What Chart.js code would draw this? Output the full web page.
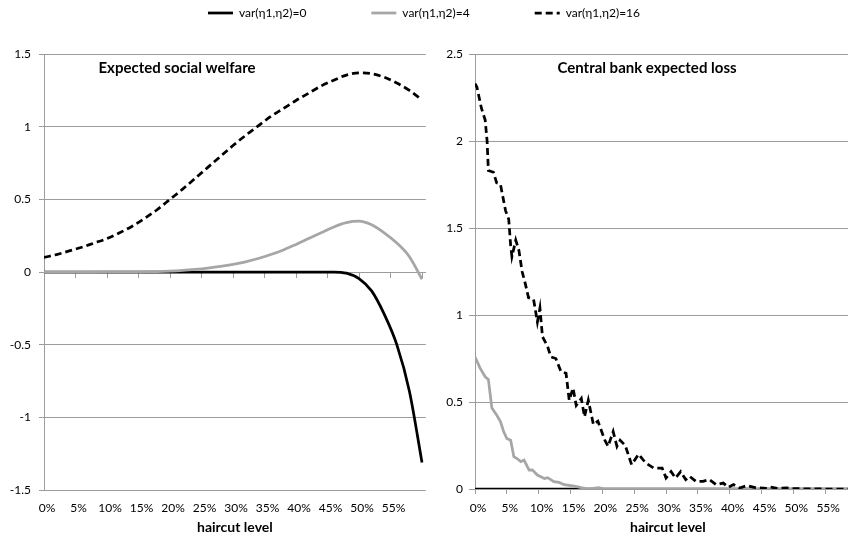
<!DOCTYPE html>
<html><head><meta charset="utf-8">
<script src="https://cdn.jsdelivr.net/npm/chart.js@4/dist/chart.umd.min.js"></script>
<style>
html,body{margin:0;padding:0;background:#fff;width:848px;height:537px;overflow:hidden;}
#wrap{position:relative;width:848px;height:537px;overflow:hidden;}
#left{position:absolute;left:0;top:0;width:433px;height:537px;}
#right{position:absolute;left:430px;top:0;width:434px;height:537px;}
#leg{position:absolute;left:0;top:-58px;width:848px;height:300px;pointer-events:none;}
</style></head><body>
<div id="wrap">
<div id="left"><canvas id="c1"></canvas></div>
<div id="right"><canvas id="c2"></canvas></div>
<div id="leg"><canvas id="c3"></canvas></div>
</div>
<script>
// ---------- data ----------
const seriesNames = ['var(η1,η2)=0', 'var(η1,η2)=4', 'var(η1,η2)=16'];
const xTickValues = [0,5,10,15,20,25,30,35,40,45,50,55,60];
const xTickLabels = ['0%','5%','10%','15%','20%','25%','30%','35%','40%','45%','50%','55%'];
const leftYTicks = [-1.5,-1,-0.5,0,0.5,1,1.5];
const rightYTicks = [0,0.5,1,1.5,2,2.5];

// Expected social welfare (haircut level in %)
const welfareHaircut = [0,2,4,6,8,10,12,14,16,18,20,22,24,26,28,30,32,34,36,38,40,42,44,46,48,50,52,54,56,58,60];
const welfareVar0 = [0,0,0,0,0,0,0,0,0,0,0,0,0,0,0,0,0,0,0,0,0,0,0,0,-0.008,-0.045,-0.13,-0.29,-0.5,-0.82,-1.31];
const welfareVar4 = [0,0,0,0,0,0.001,0.001,0.001,0.002,0.003,0.006,0.011,0.018,0.027,0.038,0.052,0.07,0.093,0.12,0.152,0.19,0.23,0.27,0.31,0.34,0.35,0.325,0.27,0.2,0.105,-0.05];
const welfareVar16 = [0.10,0.12,0.145,0.17,0.20,0.23,0.27,0.315,0.37,0.43,0.50,0.57,0.645,0.72,0.795,0.87,0.94,1.005,1.07,1.125,1.18,1.23,1.28,1.32,1.355,1.37,1.365,1.34,1.30,1.25,1.185];

// Central bank expected loss
const lossHaircutVar0 = [0,10,20,30,40,50,60];
const lossVar0 = [0,0,0,0,0,0,0];
const lossHaircutVar4 = [0,0.8,1.6,2.1,2.65,3.4,4.0,4.5,5.0,5.6,6.1,6.6,7.2,7.7,8.5,9.0,9.8,10.9,11.4,12.4,13.2,14.0,15.6,16.7,17.8,19.4,20.4,25,30,40,50,60];
const lossVar4 = [0.76,0.695,0.645,0.63,0.465,0.425,0.387,0.33,0.29,0.28,0.186,0.175,0.157,0.166,0.109,0.11,0.08,0.06,0.065,0.042,0.038,0.025,0.017,0.008,0,0.008,0,0,0,0,0,0];
const lossHaircutVar16 = [0,0.3,1.0,1.6,1.9,2.1,2.9,3.4,4.0,4.8,5.3,5.6,5.8,6.4,6.9,7.4,7.9,8.4,9.2,9.8,10.2,10.6,11.4,11.9,12.7,13.5,14.3,14.8,15.4,15.9,16.7,17.2,17.8,18.6,19.3,20.4,20.9,21.7,22.3,22.8,23.6,24.6,25.7,26.8,28.1,29.4,30.0,30.8,31.5,32.3,33.1,33.7,34.7,35.8,36.8,37.9,39.0,39.8,40.6,41.6,42.7,44.0,45.9,46.4,47.5,49.0,50.0,52,55,60];
const lossVar16 = [2.33,2.31,2.19,2.12,2.0,1.83,1.82,1.76,1.75,1.60,1.55,1.40,1.335,1.43,1.37,1.25,1.18,1.10,1.09,0.96,1.04,0.875,0.82,0.76,0.75,0.675,0.665,0.51,0.58,0.48,0.52,0.415,0.51,0.37,0.39,0.28,0.245,0.33,0.245,0.28,0.25,0.14,0.20,0.15,0.12,0.12,0.063,0.10,0.063,0.10,0.054,0.073,0.044,0.044,0.054,0.025,0.034,0.01,0.025,0.006,0.02,0.008,0.004,0.011,0.004,0.006,0.002,0.001,0,0];

// ---------- styling ----------
const FONT = "Lato, 'Noto Sans', 'DejaVu Sans', sans-serif";
Chart.defaults.font.family = FONT;
Chart.defaults.color = '#000';
const GRID = '#9c9c9c';
const GRAY = '#a6a6a6';
const X_MAX = 60.6;

const lineStyles = [
  {borderColor:'#000', borderWidth:2.75, borderDash:[]},
  {borderColor:GRAY, borderWidth:2.75, borderDash:[]},
  {borderColor:'#000', borderWidth:2.75, borderDash:[7,4]}
];
const drawOrder = [3,2,1];

const pairs = (xs, ys) => xs.map((x, i) => ({x: x, y: ys[i]}));

const panelTitle = {
  id: 'panelTitle',
  afterDraw(chart, args, opts) {
    const {ctx, chartArea} = chart;
    ctx.save();
    ctx.font = 'bold 15px ' + FONT;
    ctx.fillStyle = '#000';
    ctx.textAlign = 'center';
    ctx.textBaseline = 'middle';
    ctx.fillText(opts.text, chartArea.left + opts.dx, chartArea.top + opts.dy);
    ctx.restore();
  }
};

function setTicks(values) {
  return s => { s.ticks = values.map(v => ({value: v})); };
}

function makeDatasets(sets, smooth) {
  return sets.map((d, i) => Object.assign({
    label: seriesNames[i],
    data: d,
    pointRadius: 0,
    fill: false,
    order: drawOrder[i],
    tension: smooth ? 0.4 : 0,
    cubicInterpolationMode: smooth ? 'monotone' : 'default'
  }, lineStyles[i]));
}

function xAxis(pad, extra) {
  return Object.assign({
    type: 'linear', min: 0, max: X_MAX,
    afterBuildTicks: setTicks(xTickValues),
    ticks: {autoSkip: false, maxRotation: 0, minRotation: 0, labelOffset: 3, padding: pad,
            font: {size: 12}, callback: (v, i) => (xTickLabels[i] !== undefined ? xTickLabels[i] : '')},
    title: {display: true, text: 'haircut level', font: {size: 14, weight: 'bold'}, padding: {top: 0, bottom: 1}}
  }, extra);
}

// ---------- left chart ----------
new Chart(document.getElementById('c1'), {
  type: 'line',
  data: {datasets: makeDatasets([
    pairs(welfareHaircut, welfareVar0),
    pairs(welfareHaircut, welfareVar4),
    pairs(welfareHaircut, welfareVar16)
  ], true)},
  plugins: [panelTitle],
  options: {
    responsive: true, maintainAspectRatio: false, animation: false, events: [],
    layout: {padding: {left: 0, top: 54, right: 0, bottom: 0}},
    plugins: {legend: {display: false}, tooltip: {enabled: false},
              panelTitle: {text: 'Expected social welfare', dx: 133, dy: 14}},
    scales: {
      x: xAxis(11, {
        afterFit: s => { s.height = 47; },
        grid: {display: false, drawTicks: false},
        border: {display: false},
      }),
      x0: {
        type: 'linear', min: 0, max: X_MAX, position: {y: 0},
        afterBuildTicks: setTicks(xTickValues),
        grid: {drawOnChartArea: false, drawTicks: true, tickLength: 5, color: GRID},
        border: {display: true, color: GRID},
        ticks: {display: false}
      },
      y: {
        min: -1.5, max: 1.5,
        afterBuildTicks: setTicks(leftYTicks),
        afterFit: s => { s.width = 44; },
        grid: {color: GRID, tickLength: 5},
        border: {color: GRID},
        ticks: {padding: 8, font: {size: 12}, callback: v => String(v)}
      }
    }
  }
});

// ---------- right chart ----------
new Chart(document.getElementById('c2'), {
  type: 'line',
  data: {datasets: makeDatasets([
    pairs(lossHaircutVar0, lossVar0),
    pairs(lossHaircutVar4, lossVar4),
    pairs(lossHaircutVar16, lossVar16)
  ], false)},
  plugins: [panelTitle],
  options: {
    responsive: true, maintainAspectRatio: false, animation: false, events: [],
    layout: {padding: {left: 0, top: 54, right: 0, bottom: 0}},
    plugins: {legend: {display: false}, tooltip: {enabled: false},
              panelTitle: {text: 'Central bank expected loss', dx: 172, dy: 14}},
    scales: {
      x: xAxis(7, {
        afterFit: s => { s.height = 48; },
        grid: {drawOnChartArea: false, drawTicks: true, tickLength: 5, color: GRID},
        border: {display: true, color: GRID},
      }),
      y: {
        min: 0, max: 2.5,
        afterBuildTicks: setTicks(rightYTicks),
        afterFit: s => { s.width = 45; },
        grid: {color: GRID, tickLength: 6},
        border: {color: GRID},
        ticks: {padding: 6, font: {size: 12}, callback: v => String(v)}
      }
    }
  }
});

// ---------- shared legend ----------
new Chart(document.getElementById('c3'), {
  type: 'line',
  data: {datasets: seriesNames.map((n, i) => Object.assign({label: n, data: []}, lineStyles[i]))},
  options: {
    responsive: true, maintainAspectRatio: false, animation: false, events: [],
    layout: {padding: 0},
    scales: {x: {display: false}, y: {display: false}},
    plugins: {
      tooltip: {enabled: false},
      legend: {display: true, position: 'top',
        labels: {usePointStyle: true, pointStyle: 'line', pointStyleWidth: 25, padding: 65,
                 font: {size: 12}, color: '#000',
                 generateLabels: chart => {
                   const items = Chart.defaults.plugins.legend.labels.generateLabels(chart);
                   items.forEach(it => {
                     const ds = chart.data.datasets[it.datasetIndex];
                     it.lineDash = ds.borderDash;
                     it.lineWidth = ds.borderWidth;
                     it.strokeStyle = ds.borderColor;
                   });
                   return items;
                 }}}
    }
  }
});
</script>
</body></html>
